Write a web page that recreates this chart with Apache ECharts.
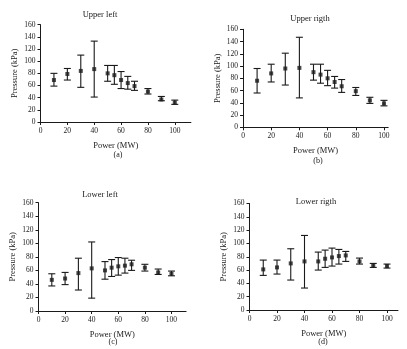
<!DOCTYPE html>
<html><head><meta charset="utf-8">
<script src="https://cdn.jsdelivr.net/npm/echarts@6/dist/echarts.min.js"></script>
<style>html,body{margin:0;padding:0;background:#fff}#c{width:407px;height:349px}</style>
</head><body><div id="c"></div>
<script>
const power = [10,20,30,40,50,55,60,65,70,80,90,100];
const panelTitles = ['Upper left','Upper rigth','Lower left','Lower rigth'];
const panelTags = ['(a)','(b)','(c)','(d)'];
const yTicks = [0,20,40,60,80,100,120,140,160];
const xTicks = [0,20,40,60,80,100];
const aMean = [69,79,84,87,80,77,69,64,59,50,37,32];
const aLow  = [59,69,57,41,67,62,55,54,52,46,35,29];
const aHigh = [80,88,110,133,93,93,83,75,67,55,42,36];
const bMean = [76,88,96,97,90,86,80,74,67,59,44,39];
const bLow  = [56,74,69,48,77,72,68,64,57,52,39,35];
const bHigh = [96,103,121,147,103,103,93,83,78,65,49,44];
const cMean = [46,48,56,63,60,64,66,67,69,64,57,55];
const cLow  = [37,39,31,19,47,51,53,56,60,59,54,52];
const cHigh = [55,57,78,102,73,76,79,78,75,69,62,59];
const dMean = [61,64,70,73,73,77,79,81,82,73,67,66];
const dLow  = [52,54,45,33,60,64,66,69,73,69,64,63];
const dHigh = [75,75,92,112,87,90,93,91,88,78,70,69];

const means = [aMean,bMean,cMean,dMean];
const lows = [aLow,bLow,cLow,dLow];
const highs = [aHigh,bHigh,cHigh,dHigh];

const FONT = '"Liberation Serif", "DejaVu Serif", serif';
const INK = '#1a1a1a';
// layout per panel
const grids = [
  {left:40.5, top:24.7, width:150.4, height:97.3, xmax:112},
  {left:243,  top:29.3, width:145.2, height:98,   xmax:103},
  {left:38.5, top:202.7,width:147.6, height:108.3,xmax:111},
  {left:249.5,top:203.5,width:148.5, height:106.5,xmax:108}
];
const titlePos = [[100,15],[310,19],[100,195],[316,202]];
const tagPos = [[118,155],[318,161],[113,342],[323,342]];

const option = {
  animation:false,
  backgroundColor:'#fff',
  textStyle:{fontFamily:FONT},
  grid: grids.map(g=>({left:g.left, top:g.top, width:g.width, height:g.height, containLabel:false, outerBoundsMode:'none'})),
  xAxis: grids.map((g,i)=>({
    type:'value', gridIndex:i, min:0, max:g.xmax,
    name:'Power (MW)', nameLocation:'middle', nameGap:19,
    nameTextStyle:{fontFamily:FONT, fontSize:8.5, color:INK},
    axisLine:{lineStyle:{color:INK, width:1}},
    axisTick:{show:true, length:3, lineStyle:{color:INK}, customValues:xTicks},
    axisLabel:{fontFamily:FONT, fontSize:7.5, color:INK, margin:5, customValues:xTicks,
      formatter:v=> (v%20===0 && v<=100) ? String(v) : ''},
    splitLine:{show:false}
  })),
  yAxis: grids.map((g,i)=>({
    type:'value', gridIndex:i, min:0, max:160, interval:20,
    name:'Pressure (kPa)', nameLocation:'middle', nameGap:21,
    nameTextStyle:{fontFamily:FONT, fontSize:8.5, color:INK},
    axisLine:{show:true, lineStyle:{color:INK, width:1}},
    axisTick:{show:true, length:3, lineStyle:{color:INK}},
    axisLabel:{fontFamily:FONT, fontSize:7.5, color:INK, margin:5},
    splitLine:{show:false}
  })),
  graphic: [],
  series: []
};

for (let i=0;i<4;i++){
  option.graphic.push({type:'text', x:titlePos[i][0], y:titlePos[i][1],
    style:{text:panelTitles[i], fontFamily:FONT, fontSize:8.5, fill:INK, align:'center', verticalAlign:'middle'}});
  option.graphic.push({type:'text', x:tagPos[i][0], y:tagPos[i][1],
    style:{text:panelTags[i], fontFamily:FONT, fontSize:8, fill:INK, align:'center', verticalAlign:'middle'}});
  const errData = power.map((p,k)=>[p, lows[i][k], highs[i][k]]);
  option.series.push({
    type:'custom', xAxisIndex:i, yAxisIndex:i, data:errData,
    encode:{x:0, y:[1,2]},
    renderItem:function(params, api){
      const x = api.value(0);
      const lo = api.coord([x, api.value(1)]);
      const hi = api.coord([x, api.value(2)]);
      const hw = 3.5;
      const st = {stroke:INK, lineWidth:1.1};
      return {type:'group', children:[
        {type:'line', shape:{x1:lo[0], y1:lo[1], x2:hi[0], y2:hi[1]}, style:st},
        {type:'line', shape:{x1:lo[0]-hw, y1:lo[1], x2:lo[0]+hw, y2:lo[1]}, style:st},
        {type:'line', shape:{x1:hi[0]-hw, y1:hi[1], x2:hi[0]+hw, y2:hi[1]}, style:st}
      ]};
    }
  });
  option.series.push({
    type:'scatter', xAxisIndex:i, yAxisIndex:i,
    data: power.map((p,k)=>[p, means[i][k]]),
    symbol:'rect', symbolSize:4, itemStyle:{color:INK}, z:5
  });
}

const chart = echarts.init(document.getElementById('c'), null, {renderer:'canvas'});
chart.setOption(option);
</script>
</body></html>
